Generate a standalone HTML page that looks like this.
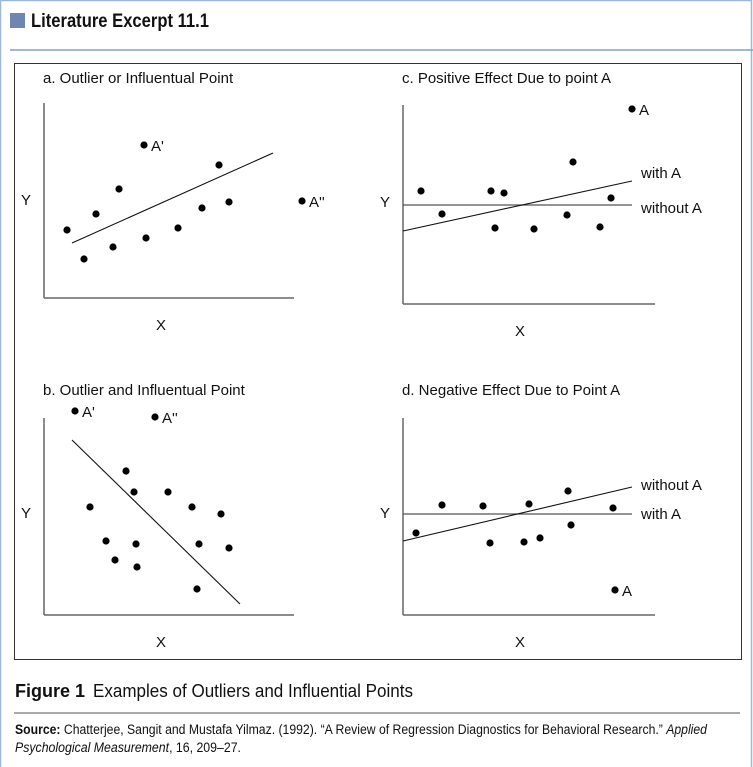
<!DOCTYPE html>
<html><head><meta charset="utf-8"><style>
html,body{margin:0;padding:0;background:#fff;}
svg{display:block;}
text{font-family:"Liberation Sans",Arial,sans-serif;fill:#111;}
.cond{font-family:"Liberation Sans Narrow","Liberation Sans",sans-serif;}
</style></head><body>
<svg id="fig" width="753" height="767" viewBox="0 0 753 767" xmlns="http://www.w3.org/2000/svg">
<rect x="0.5" y="0.5" width="751" height="790" fill="none" stroke="#9cb8d6" stroke-width="1.5"/>
<rect x="10" y="13" width="15" height="15" fill="#6f86b0"/>
<text x="31" y="27" class="cond" font-size="19" font-weight="bold" textLength="178" lengthAdjust="spacingAndGlyphs">Literature Excerpt 11.1</text>
<line x1="10" y1="50" x2="753" y2="50" stroke="#7fa3cc" stroke-width="1.5"/>
<rect x="14.5" y="63.5" width="727" height="596" fill="none" stroke="#333" stroke-width="1"/>
<g id="panels"></g>
<text x="15" y="697" class="cond" font-size="18" font-weight="bold" textLength="70" lengthAdjust="spacingAndGlyphs">Figure 1</text>
<text x="93" y="697" class="cond" font-size="18" textLength="320" lengthAdjust="spacingAndGlyphs">Examples of Outliers and Influential Points</text>
<line x1="14" y1="713" x2="740" y2="713" stroke="#555" stroke-width="1"/>
<text x="15" y="734" class="cond" font-size="13.5" textLength="692" lengthAdjust="spacingAndGlyphs"><tspan font-weight="bold">Source:</tspan> Chatterjee, Sangit and Mustafa Yilmaz. (1992). “A Review of Regression Diagnostics for Behavioral Research.” <tspan font-style="italic">Applied</tspan></text>
<text x="15" y="752" class="cond" font-size="13.5" textLength="226" lengthAdjust="spacingAndGlyphs"><tspan font-style="italic">Psychological Measurement</tspan>, 16, 209–27.</text>
</svg>
<script>
// Data arrays (arbitrary units 0-250 x, 0-200 y)
const aX = [23,40,52,69,75,102,134,158,175,185];
const aY = [68,39,84,51,109,60,70,90,133,96];
const aOutX = [100,258]; const aOutY = [153,97]; const aOutLabels = ["A'","A''"];
const aLineX = [28,229]; const aLineY = [55,145];

const cX = [18,39,88,101,92,131,164,170,197,208];
const cY = [113,90,113,111,76,75,89,142,77,106];
const cOutX = [229]; const cOutY = [195]; const cOutLabels = ["A"];
const cWithX = [0,229]; const cWithY = [73,123];
const cWithoutY = 99;

const bX = [82,90,46,124,148,177,62,92,71,93,155,185,153];
const bY = [144,123,108,123,108,101,74,71,55,48,71,67,26];
const bOutX = [31,111]; const bOutY = [204,198]; const bOutLabels = ["A'","A''"];
const bLineX = [28,196]; const bLineY = [175,11];

const dX = [13,39,80,87,126,121,137,165,168,210];
const dY = [82,110,109,72,111,73,77,124,90,107];
const dOutX = [212]; const dOutY = [25]; const dOutLabels = ["A"];
const dWithX = [0,229]; const dWithY = [74,128];
const dWithoutY = 101;

const NS = "http://www.w3.org/2000/svg";
const root = document.getElementById('panels');
function mk(tag, attrs, parent){const e=document.createElementNS(NS,tag);for(const k in attrs)e.setAttribute(k,attrs[k]);(parent||root).appendChild(e);return e;}

function panel(p){
  const g = mk('g',{});
  
  
  const sx = v => p.ox + v, sy = v => p.oy - v;
  const t = mk('text',{x:p.tx,y:p.ty,'font-size':15},g); t.textContent=p.title;
  
  
  const ya = mk('line',{x1:p.ox,y1:p.oy-p.h,x2:p.ox,y2:p.oy,stroke:'#666','stroke-width':1.5},g);
  
  
  const xa = mk('line',{x1:p.ox,y1:p.oy,x2:p.ox+p.w,y2:p.oy,stroke:'#666','stroke-width':1.5},g);
  
  
  const yl = mk('text',{x:p.ox-18,y:sy(p.ylab),'font-size':15,'text-anchor':'middle'},g); yl.textContent='Y';
  
  
  const xl = mk('text',{x:p.ox+117,y:p.oy+32,'font-size':15,'text-anchor':'middle'},g); xl.textContent='X';
  
  
  if(p.hline!==undefined){
    const h = mk('line',{x1:p.ox,y1:sy(p.hline),x2:sx(229),y2:sy(p.hline),stroke:'#555','stroke-width':1.3},g);
    
    
  }
  const l = mk('line',{x1:sx(p.lx[0]),y1:sy(p.ly[0]),x2:sx(p.lx[1]),y2:sy(p.ly[1]),stroke:'#111','stroke-width':1.1},g);
  
  
  p.xs.forEach((x,i)=>{
    const c = mk('circle',{cx:sx(x),cy:sy(p.ys[i]),r:3.6,fill:'#000'},g);
    
    
  });
  p.oxs.forEach((x,i)=>{
    const c = mk('circle',{cx:sx(x),cy:sy(p.oys[i]),r:3.6,fill:'#000'},g);
    
    
    const tt = mk('text',{x:sx(x)+7,y:sy(p.oys[i])+6,'font-size':15},g); tt.textContent=p.olab[i];
    
    
  });
  (p.lineLabels||[]).forEach(ll=>{
    const tt = mk('text',{x:p.ox+238,y:sy(ll[1])+5,'font-size':15},g); tt.textContent=ll[0];
    
    
  });
}
panel({name:'panel-a',title:'a. Outlier or Influentual Point',tx:43,ty:83,ox:44,oy:298,w:250,h:195,ylab:93,
  xs:aX,ys:aY,oxs:aOutX,oys:aOutY,olab:aOutLabels,lx:aLineX,ly:aLineY});
panel({name:'panel-c',title:'c. Positive Effect Due to point A',tx:402,ty:83,ox:403,oy:304,w:252,h:199,ylab:97,
  xs:cX,ys:cY,oxs:cOutX,oys:cOutY,olab:cOutLabels,lx:cWithX,ly:cWithY,hline:cWithoutY,
  lineLabels:[['with A',cWithY[1]+8],['without A',cWithoutY-3]]});
panel({name:'panel-b',title:'b. Outlier and Influentual Point',tx:43,ty:395,ox:44,oy:615,w:250,h:197,ylab:97,
  xs:bX,ys:bY,oxs:bOutX,oys:bOutY,olab:bOutLabels,lx:bLineX,ly:bLineY});
panel({name:'panel-d',title:'d. Negative Effect Due to Point A',tx:402,ty:395,ox:403,oy:615,w:252,h:197,ylab:97,
  xs:dX,ys:dY,oxs:dOutX,oys:dOutY,olab:dOutLabels,lx:dWithX,ly:dWithY,hline:dWithoutY,
  lineLabels:[['without A',dWithY[1]+2],['with A',dWithoutY]]});
</script>
</body></html>
